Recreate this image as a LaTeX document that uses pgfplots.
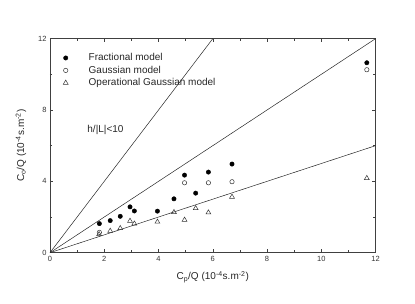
\documentclass[border=0pt]{standalone}
\usepackage{pgfplots}
\pgfplotsset{compat=1.18}
\usepackage{fontspec}
\setmainfont{Liberation Sans}
\begin{document}
\begin{tikzpicture}[x=1pt,y=1pt]
\path[use as bounding box] (-50,-51.3) rectangle (365,252.7);
\begin{axis}[
  at={(0,0)}, anchor=south west,
  scale only axis, width=325.5pt, height=214pt,
  xmin=0, xmax=12, ymin=0, ymax=12,
  xtick={0,2,...,12}, ytick={0,4,8,12},
  minor x tick num=1, minor y tick num=1,
  tick align=inside,
  major tick length=3.5pt, minor tick length=2.2pt,
  axis line style={black!75, line width=0.6pt},
  every tick/.style={black!75, line width=0.5pt},
  tick label style={font=\fontsize{7.5}{8}\selectfont, text=black!80},
  /pgf/number format/assume math mode=true,
  xlabel={C\textsubscript{p}/Q (10\textsuperscript{-4}s.m\textsuperscript{-2})},
  ylabel={C\textsubscript{o}/Q (10\textsuperscript{-4}s.m\textsuperscript{-2})},
  label style={font=\fontsize{10}{11}\selectfont, text=black!85},
  xlabel style={yshift=-3pt},
  ylabel style={yshift=5pt},
  legend style={draw=none, fill=none, at={(0.031,0.95)}, anchor=north west,
    font=\fontsize{10}{11}\selectfont, text=black!85,
    row sep=-0.3pt},
  legend image code/.code={\path[draw=none,fill=none] (0pt,0pt) -- (21pt,0pt); \draw[#1, only marks] plot coordinates {(0pt,0pt)};},
  legend cell align=left,
  clip=false,
]
\addplot[black!85, line width=0.5pt, forget plot] coordinates {(0,0) (6,12)};
\addplot[black!85, line width=0.5pt, forget plot] coordinates {(0,0) (12,12)};
\addplot[black!85, line width=0.5pt, forget plot] coordinates {(0,0) (12,6)};
\addplot[only marks, mark=*, mark size=2.2pt, black] coordinates {
(1.82,1.63) (2.22,1.80) (2.59,2.04) (2.95,2.57) (3.11,2.34) (3.96,2.33)
(4.57,3.02) (4.96,4.35) (5.37,3.34) (5.84,4.52) (6.71,4.97) (11.68,10.65)};
\addlegendentry{Fractional model}
\addplot[only marks, mark=o, mark size=2.2pt, black!80, mark options={line width=0.5pt}] coordinates {
(1.82,1.14) (4.96,3.92) (5.84,3.92) (6.71,3.98) (11.68,10.26)};
\addlegendentry{Gaussian model}
\addplot[only marks, mark=triangle, mark size=2.8pt, black!80, mark options={line width=0.5pt}] coordinates {
(1.81,1.03) (2.22,1.22) (2.59,1.37) (2.95,1.78) (3.11,1.63) (3.96,1.73)
(4.57,2.27) (4.96,1.84) (5.37,2.49) (5.84,2.25) (6.71,3.13) (11.68,4.18)};
\addlegendentry{Operational Gaussian model}
\node[anchor=west, font=\fontsize{10}{11}\selectfont, text=black!85] at (axis cs:1.25,6.86) {h/|L|<10};
\end{axis}
\end{tikzpicture}
\end{document}
